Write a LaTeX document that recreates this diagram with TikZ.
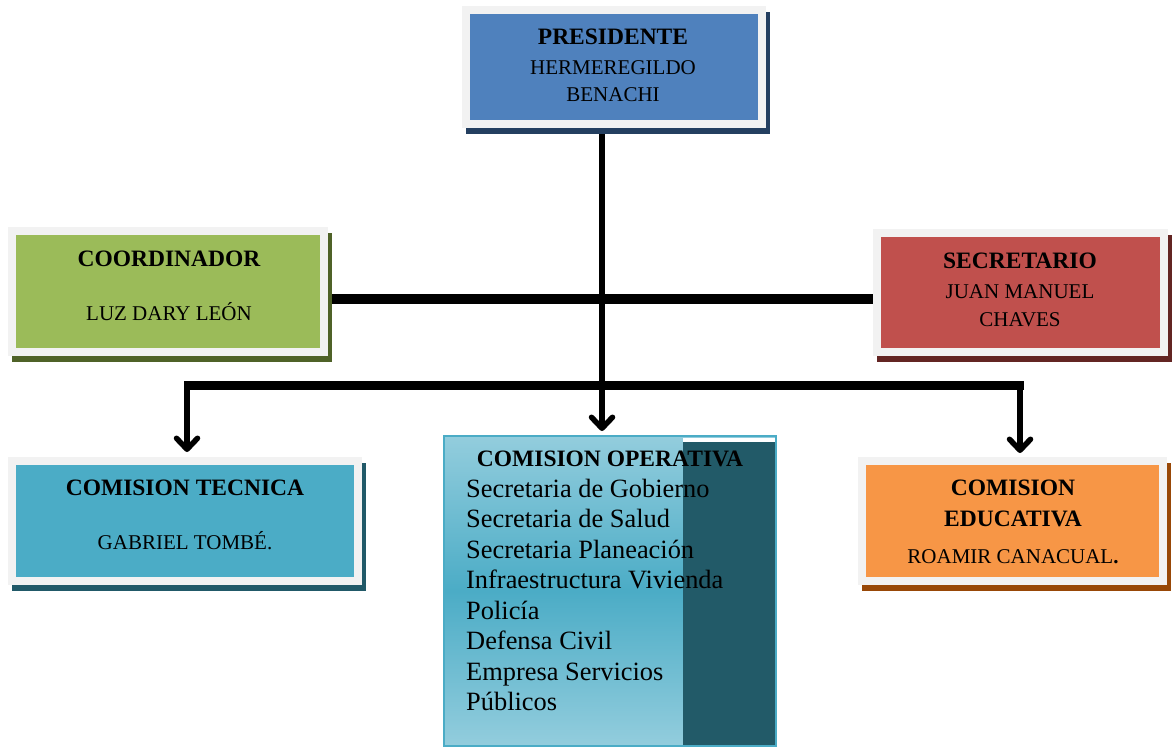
\documentclass[tikz,border=0pt]{standalone}
\usepackage{fontspec}
\setmainfont{Liberation Serif}
\usetikzlibrary{arrows.meta,backgrounds}
\definecolor{frameg}{HTML}{F2F2F2}
\definecolor{cblue}{HTML}{4F81BD}
\definecolor{sblue}{HTML}{243F60}
\definecolor{cgreen}{HTML}{9BBB59}
\definecolor{sgreen}{HTML}{4F6228}
\definecolor{cred}{HTML}{C0504D}
\definecolor{sred}{HTML}{632523}
\definecolor{cteal}{HTML}{4BACC6}
\definecolor{steal}{HTML}{215968}
\definecolor{corange}{HTML}{F79646}
\definecolor{sorange}{HTML}{984807}
\definecolor{oplight}{HTML}{93CDDD}
\definecolor{opdark}{HTML}{225A68}
\begin{document}
\begin{tikzpicture}[x=1pt,y=-1pt,
  box/.style 2 args={draw=frameg, line width=8pt, fill=#1, inner sep=0pt,
    preaction={draw=#2, fill=#2, transform canvas={xshift=3.5pt,yshift=-6pt}}},
  hb/.style={font=\fontsize{23.5}{28}\selectfont\bfseries, anchor=base, inner sep=0pt},
  hr/.style={font=\fontsize{21}{25}\selectfont, anchor=base, inner sep=0pt},
  li/.style={font=\fontsize{26.4}{30}\selectfont, anchor=base west, inner sep=0pt},
  arr/.style={line width=5.5pt, -{Straight Barb[length=11pt,width=21pt,round]}},
  bar/.style={line width=9pt},
  hbar/.style={line width=10pt}]
\useasboundingbox (0,0) rectangle (1173,748);

% boxes
\node[box={cblue}{sblue}, minimum width=296pt, minimum height=114pt] (pres) at (614,67) {};
\node[box={cgreen}{sgreen}, minimum width=312pt, minimum height=121pt] (coord) at (168,291.5) {};
\node[box={cred}{sred}, minimum width=287pt, minimum height=119pt] (sec) at (1020.5,292.5) {};
\node[box={cteal}{steal}, minimum width=346pt, minimum height=120pt] (tec) at (185,521) {};
\node[box={corange}{sorange}, minimum width=301pt, minimum height=120pt] (edu) at (1012.5,521) {};

% operativa box
\node[draw=cteal, line width=2pt, top color=oplight, bottom color=oplight, middle color=cteal,
      minimum width=332pt, minimum height=310pt, inner sep=0pt] (ope) at (610,591) {};
\fill[white] (683,438) rectangle (775,442);
\fill[opdark] (683,442) rectangle (775,745);

% texts
\node[hb] (presT1) at (613,44) {PRESIDENTE};
\node[hr] (presT2) at (613,74) {HERMEREGILDO};
\node[hr] (presT3) at (613,101) {BENACHI};

\node[hb] (coordT1) at (169,266.5) {COORDINADOR};
\node[hr] (coordT2) at (169,320) {LUZ DARY LEÓN};

\node[hb] (secT1) at (1020,268.5) {SECRETARIO};
\node[hr] (secT2) at (1020,298.5) {JUAN MANUEL};
\node[hr] (secT3) at (1020,326) {CHAVES};

\node[hb] (tecT1) at (185,495) {COMISION TECNICA};
\node[hr] (tecT2) at (185,549) {GABRIEL TOMBÉ.};

\node[hb] (eduT1) at (1013,495) {COMISION};
\node[hb] (eduT2) at (1013,526) {EDUCATIVA};
\node[hr] (eduT3) at (1013,563.5) {ROAMIR CANACUAL{\bfseries.}};

\node[hb] (opeT) at (610,466.5) {COMISION OPERATIVA};
\node[li] (l1) at (466,497) {Secretaria de Gobierno};
\node[li] (l2) at (466,527.5) {Secretaria de Salud};
\node[li] (l3) at (466,558) {Secretaria Planeación};
\node[li] (l4) at (466,588.5) {Infraestructura Vivienda};
\node[li] (l5) at (466,619) {Policía};
\node[li] (l6) at (466,649.5) {Defensa Civil};
\node[li] (l7) at (466,680) {Empresa Servicios};
\node[li] (l8) at (466,710.5) {Públicos};

% connectors
\coordinate (jl) at (187,385);
\coordinate (jm) at (602,385);
\coordinate (jr) at (1020,385);
\coordinate (hy) at (0,299);
\begin{scope}[on background layer]
\fill[white] (0,0) rectangle (1173,748);
\draw[hbar] (coord.east |- hy) -- (sec.west |- hy);
\draw[bar] ([xshift=-3pt]jl) -- ([xshift=3.5pt]jr);
\draw[arr, shorten >=4pt] (pres.south -| jm) -- (jm |- ope.north);
\draw[arr, shorten >=5pt] (jl) -- (jl |- tec.north);
\draw[arr, shorten >=4pt] (jr) -- (jr |- edu.north);
\end{scope}
\end{tikzpicture}
\end{document}
